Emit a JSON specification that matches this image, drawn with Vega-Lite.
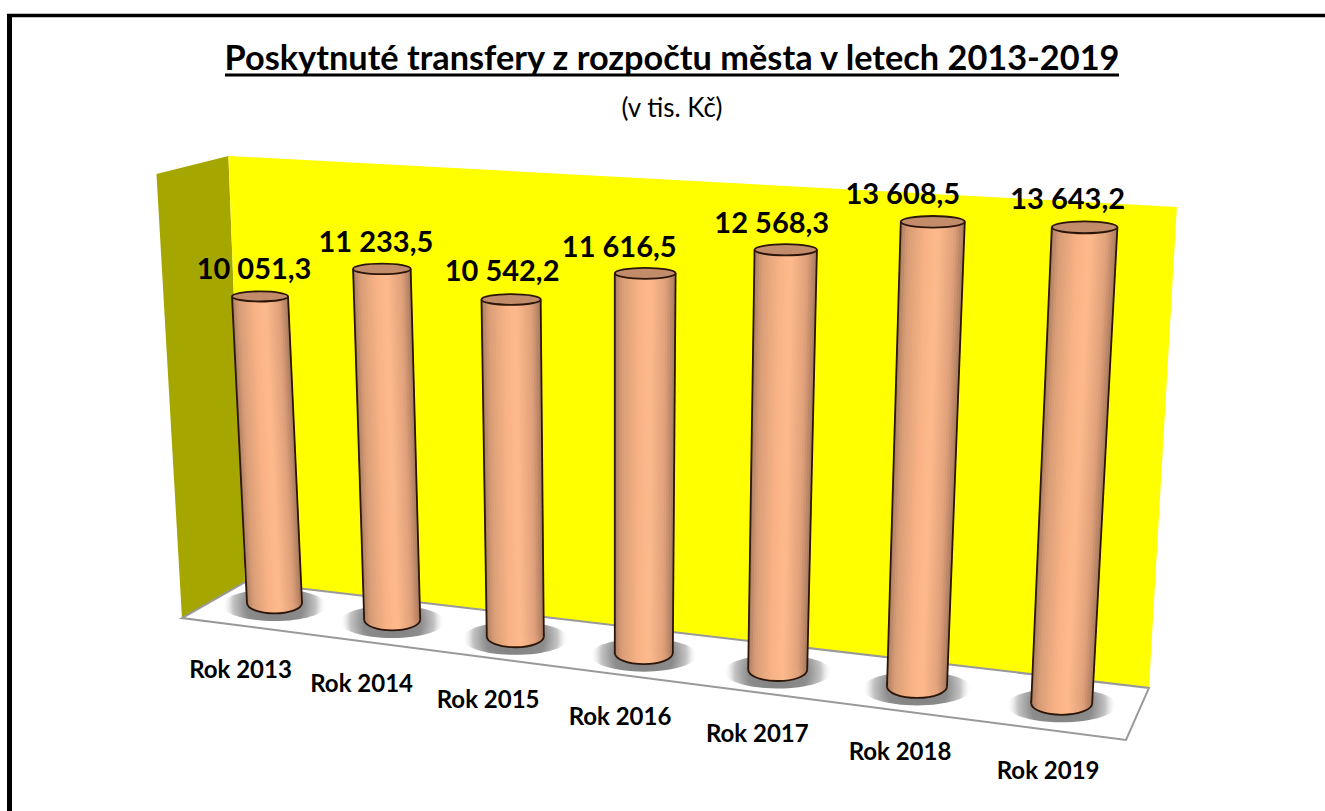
{
"$schema":"https://vega.github.io/schema/vega-lite/v6.json",
"width":1325,"height":811,"padding":0,"autosize":{"type":"none"},
"background":"white",
"config":{"view":{"stroke":null}},
"title":{"text":"Poskytnuté transfery z rozpočtu města v letech 2013-2019","subtitle":"(v tis. Kč)","anchor":"middle","frame":"group","dx":9.5,"offset":-122,"font":"Lato","fontWeight":"bold","fontSize":34.3,"color":"black","subtitleFont":"Lato","subtitleFontSize":26,"subtitleColor":"black","subtitlePadding":19},
"datasets":{
"plochy":[
{"plocha":"bok","roh":0,"i":-0.5,"d":1,"h":0},{"plocha":"bok","roh":1,"i":-0.5,"d":1,"h":14400},{"plocha":"bok","roh":2,"i":-0.5,"d":-1.3,"h":14400},{"plocha":"bok","roh":3,"i":-0.5,"d":-1.3,"h":0},
{"plocha":"zed","roh":0,"i":-0.5,"d":1,"h":0},{"plocha":"zed","roh":1,"i":-0.5,"d":1,"h":14400},{"plocha":"zed","roh":2,"i":6.5,"d":1,"h":14400},{"plocha":"zed","roh":3,"i":6.5,"d":1,"h":0},
{"plocha":"podlaha","roh":0,"i":-0.5,"d":1,"h":0},{"plocha":"podlaha","roh":1,"i":6.5,"d":1,"h":0},{"plocha":"podlaha","roh":2,"i":6.5,"d":-1.3,"h":0},{"plocha":"podlaha","roh":3,"i":-0.5,"d":-1.3,"h":0},{"plocha":"podlaha","roh":4,"i":-0.5,"d":1,"h":0}
],
"sloupce":[
{"rok":"Rok 2013","hodnota":10051.3,"popisek":"10 051,3","i":0},
{"rok":"Rok 2014","hodnota":11233.5,"popisek":"11 233,5","i":1},
{"rok":"Rok 2015","hodnota":10542.2,"popisek":"10 542,2","i":2},
{"rok":"Rok 2016","hodnota":11616.5,"popisek":"11 616,5","i":3},
{"rok":"Rok 2017","hodnota":12568.3,"popisek":"12 568,3","i":4},
{"rok":"Rok 2018","hodnota":13608.5,"popisek":"13 608,5","i":5},
{"rok":"Rok 2019","hodnota":13643.2,"popisek":"13 643,2","i":6}
]},
"layer":[
{"data":{"name":"plochy"},
 "transform":[
  {"calculate":"274.5+115*datum.i+2.7*datum.i*datum.i+datum.d*(27.37-2.39*(datum.i+0.5))+datum.d*datum.d*(-0.07+0.33*(datum.i+0.5))+datum.h*(-0.00144+0.00052*datum.i+0.00028*(6.5-datum.i)/7+datum.d*0.00027*(6.5-datum.i)/7)","as":"px"},
  {"calculate":"603+16.7*datum.i+datum.d*(-14.95-1.127*(datum.i+0.5))+datum.d*datum.d*(2.35-0.444*(datum.i+0.5))-datum.h*(0.0305+0.00073*datum.i)*(1-datum.d*(0.018+0.0049*(datum.i+0.5)))","as":"py"}],
 "layer":[
  {"transform":[{"filter":"datum.plocha==='bok'"}],"mark":{"type":"line","fill":"#A6A600","stroke":null},"encoding":{"x":{"field":"px","type":"quantitative","scale":{"domain":[0,1325],"nice":false,"zero":false},"axis":null},"y":{"field":"py","type":"quantitative","scale":{"domain":[811,0],"nice":false,"zero":false},"axis":null},"order":{"field":"roh","type":"quantitative"}}},
  {"transform":[{"filter":"datum.plocha==='zed'"}],"mark":{"type":"line","fill":"#FFFF00","stroke":null},"encoding":{"x":{"field":"px","type":"quantitative","axis":null},"y":{"field":"py","type":"quantitative","axis":null},"order":{"field":"roh","type":"quantitative"}}},
  {"transform":[{"filter":"datum.plocha==='podlaha'"}],"mark":{"type":"line","fill":"white","stroke":"#999999","strokeWidth":2},"encoding":{"x":{"field":"px","type":"quantitative","axis":null},"y":{"field":"py","type":"quantitative","axis":null},"order":{"field":"roh","type":"quantitative"}}}
 ]},
{"data":{"name":"sloupce"},
 "transform":[
  {"calculate":"274.5+115*datum.i+2.7*datum.i*datum.i","as":"xz"},
  {"calculate":"603+16.7*datum.i","as":"yz"},
  {"calculate":"datum.xz+datum.hodnota*(-0.00144+0.00052*datum.i)","as":"xv"},
  {"calculate":"datum.yz-datum.hodnota*(0.0305+0.00073*datum.i)","as":"yv"},
  {"calculate":"55+datum.i","as":"sd"},
  {"calculate":"56+1.6*datum.i","as":"sh"}],
 "layer":[
  {"transform":[{"calculate":"datum.yz+2","as":"ys"},{"calculate":"pow(104+datum.i,2)","as":"ps"}],
   "mark":{"type":"point","filled":true,"opacity":1,"strokeWidth":0,"shape":"M-1,0 C-1,-.17 -.55,-.31 0,-.31 C.55,-.31 1,-.17 1,0 C1,.17 .55,.31 0,.31 C-.55,.31 -1,.17 -1,0 Z","fill":{"gradient":"radial","x1":0.5,"y1":0.5,"r1":0,"x2":0.5,"y2":0.5,"r2":0.5,"stops":[{"offset":0,"color":"#808080"},{"offset":0.55,"color":"#8c8c8c"},{"offset":0.8,"color":"#c4c4c4"},{"offset":1,"color":"rgba(255,255,255,0)"}]}},
   "encoding":{"x":{"field":"xz","type":"quantitative","axis":null},"y":{"field":"ys","type":"quantitative","axis":null},"size":{"field":"ps","type":"quantitative","scale":null}}},
  {"transform":[{"calculate":"pow(datum.sd,2)","as":"ps"}],
   "mark":{"type":"point","filled":true,"opacity":1,"stroke":"#2a1508","strokeWidth":1.8,"shape":"M-1,0 C-1,-.21 -.55,-.38 0,-.38 C.55,-.38 1,-.21 1,0 C1,.21 .55,.38 0,.38 C-.55,.38 -1,.21 -1,0 Z","fill":{"gradient":"linear","x1":0,"y1":0,"x2":1,"y2":0,"stops":[{"offset":0,"color":"#A87A5E"},{"offset":0.12,"color":"#D79C76"},{"offset":0.4,"color":"#F8B285"},{"offset":0.6,"color":"#FDB98C"},{"offset":0.85,"color":"#DFA07A"},{"offset":1,"color":"#A87A5E"}]}},
   "encoding":{"x":{"field":"xz","type":"quantitative","axis":null},"y":{"field":"yz","type":"quantitative","axis":null},"size":{"field":"ps","type":"quantitative","scale":null}}},
  {"transform":[{"calculate":"[0.02,0.06,0.1,0.14,0.18,0.22,0.26,0.3,0.34,0.38,0.42,0.46,0.5,0.54,0.58,0.62,0.66,0.7,0.74,0.78,0.82,0.86,0.9,0.94,0.98]","as":"f"},{"flatten":["f"]},
    {"calculate":"datum.xz+(datum.f-0.5)*datum.sd","as":"xa"},
    {"calculate":"datum.xv+(datum.f-0.5)*datum.sh","as":"xb"}],
   "mark":{"type":"rule","strokeWidth":3.2,"strokeCap":"butt"},
   "encoding":{"x":{"field":"xa","type":"quantitative","axis":null},"x2":{"field":"xb"},"y":{"field":"yz","type":"quantitative","axis":null},"y2":{"field":"yv"},
    "color":{"field":"f","type":"quantitative","legend":null,"scale":{"type":"linear","domain":[0,0.12,0.4,0.6,0.85,1],"range":["#A87A5E","#D79C76","#F8B285","#FDB98C","#DFA07A","#A87A5E"],"interpolate":"rgb"}},"detail":{"field":"rok"}}},
  {"transform":[{"calculate":"[0,1]","as":"f"},{"flatten":["f"]},
    {"calculate":"datum.xz+(datum.f-0.5)*datum.sd","as":"xa"},
    {"calculate":"datum.xv+(datum.f-0.5)*datum.sh","as":"xb"}],
   "mark":{"type":"rule","stroke":"#2a1508","strokeWidth":1.8},
   "encoding":{"x":{"field":"xa","type":"quantitative","axis":null},"x2":{"field":"xb"},"y":{"field":"yz","type":"quantitative","axis":null},"y2":{"field":"yv"}}},
  {"transform":[{"calculate":"pow(datum.sh,2)","as":"ps"}],
   "mark":{"type":"point","filled":true,"opacity":1,"stroke":"#2a1508","strokeWidth":1.8,"shape":"M-1,0 C-1,-.1 -.55,-.18 0,-.18 C.55,-.18 1,-.1 1,0 C1,.1 .55,.18 0,.18 C-.55,.18 -1,.1 -1,0 Z","fill":"#C28C6B"},
   "encoding":{"x":{"field":"xv","type":"quantitative","axis":null},"y":{"field":"yv","type":"quantitative","axis":null},"size":{"field":"ps","type":"quantitative","scale":null}}},
  {"transform":[{"calculate":"datum.xv+[-6,-6,-9,-26,-14,-30,-17][datum.i]","as":"lx"},{"calculate":"datum.yv-[17,17,18,16,17,18,18][datum.i]","as":"ly"}],
   "mark":{"type":"text","font":"Lato","fontWeight":"bold","fontSize":29,"color":"black","align":"center","baseline":"alphabetic"},
   "encoding":{"x":{"field":"lx","type":"quantitative","axis":null},"y":{"field":"ly","type":"quantitative","axis":null},"text":{"field":"popisek"}}},
  {"transform":[{"calculate":"datum.xz-34+3.4*datum.i","as":"lx"},{"calculate":"datum.yz+[75,72,72,72,72,73,76][datum.i]","as":"ly"}],
   "mark":{"type":"text","font":"Lato","fontWeight":"bold","fontSize":24,"color":"black","align":"center","baseline":"alphabetic"},
   "encoding":{"x":{"field":"lx","type":"quantitative","axis":null},"y":{"field":"ly","type":"quantitative","axis":null},"text":{"field":"rok"}}}
 ]},
{"data":{"values":[{"usek":"cara"}]},
 "layer":[
  {"mark":{"type":"rule","stroke":"black","strokeWidth":3},"encoding":{"x":{"datum":225},"x2":{"datum":1119},"y":{"datum":75}}},
  {"mark":{"type":"rule","stroke":"black","strokeWidth":5},"encoding":{"x":{"datum":9.5},"y":{"datum":14},"y2":{"datum":811}}},
  {"mark":{"type":"rule","stroke":"black","strokeWidth":3.5},"encoding":{"x":{"datum":7},"x2":{"datum":1325},"y":{"datum":15.5}}}
 ]}
]}
